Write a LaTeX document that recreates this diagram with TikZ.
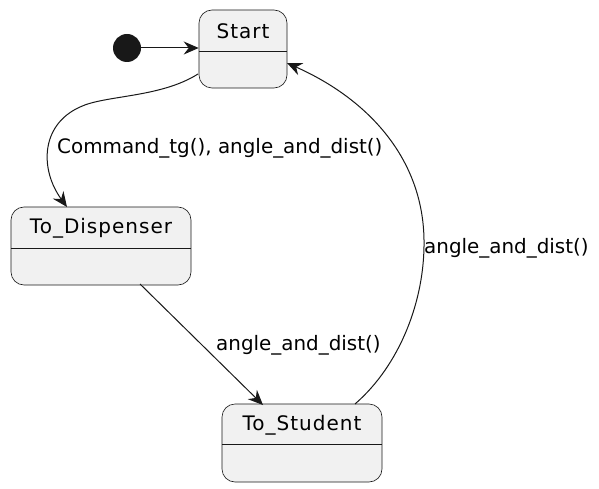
\documentclass[tikz,border=0pt]{standalone}
\usepackage{fontspec}
\setmainfont{DejaVu Sans}
\newfontfamily\namefont[LetterSpace=5]{DejaVu Sans}
\usetikzlibrary{arrows.meta}
\definecolor{boxfill}{HTML}{F1F1F1}
\definecolor{boxline}{HTML}{181818}
\tikzset{
  statebox/.style={draw=boxline, fill=boxfill, rounded corners=13pt, line width=0.6pt, minimum width=#1, minimum height=78pt, inner sep=0pt},
  statename/.style={font=\namefont\fontsize{20}{24}\selectfont, text=black, inner sep=0pt},
  edgelabel/.style={font=\fontsize{19.9}{23}\selectfont, text=black, inner sep=0pt, anchor=west},
  conn/.style={draw=boxline, line width=1pt, -{Stealth[length=15pt, width=13pt, inset=5pt]}},
}
\begin{document}
\begin{tikzpicture}[x=1pt, y=-1pt]
\useasboundingbox (0,0) rectangle (599,489);
% initial state
\node[circle, fill=boxline, minimum size=28pt, inner sep=0pt] (init) at (127,48) {};
% Start
\node[statebox=88pt] (start) at (243,49) {};
\draw[boxline, line width=0.6pt] (199,51) -- (287,51);
\node[statename] (startlbl) at (243,31) {Start};
% To_Dispenser
\node[statebox=180pt] (disp) at (101,246) {};
\draw[boxline, line width=0.6pt] (11,248) -- (191,248);
\node[statename] (displbl) at (101,228) {To\_Dispenser};
% To_Student
\node[statebox=160pt] (stud) at (302,443) {};
\draw[boxline, line width=0.6pt] (222,444) -- (382,444);
\node[statename] (studlbl) at (302,425) {To\_Student};
% connectors
\coordinate (s1) at (198,74);
\coordinate (d1) at (67,207);
\draw[conn] (init) -- (start.west |- init);
\draw[conn] (s1) .. controls (160,98) and (105,95) .. (80,107) .. controls (40,125) and (40,170) .. (d1);
\node[edgelabel] (l1) at (57,148) {Command\_tg(), angle\_and\_dist()};
\coordinate (d2) at (140,284);
\coordinate (t2) at (263,405);
\draw[conn] (d2) -- (t2);
\node[edgelabel] (l2) at (216,345) {angle\_and\_dist()};
\coordinate (t3) at (355,404);
\coordinate (s3) at (287,63);
\draw[conn] (t3) .. controls (400,365) and (425,300) .. (424,240) .. controls (423,160) and (370,100) .. (s3);
\node[edgelabel] (l3) at (424,248) {angle\_and\_dist()};
\end{tikzpicture}
\end{document}
